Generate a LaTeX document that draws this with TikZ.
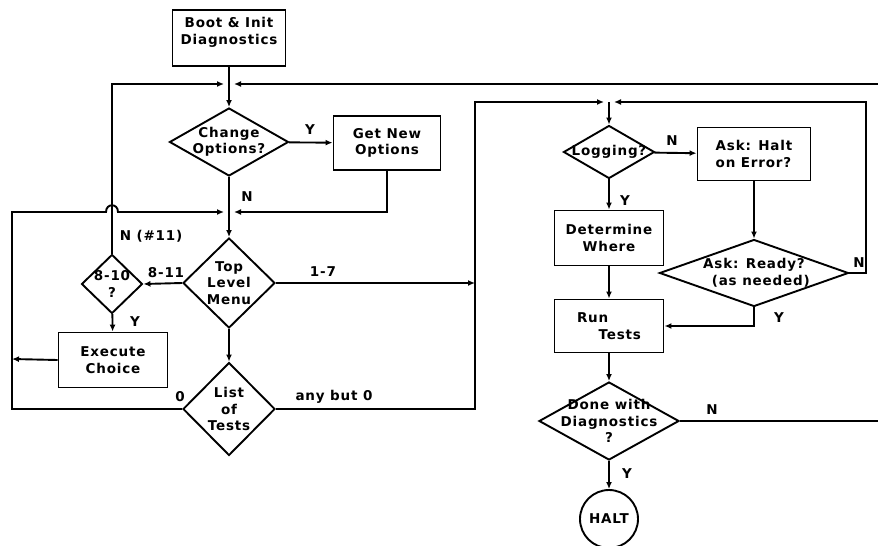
\documentclass[tikz,border=0pt]{standalone}
\usepackage{fontspec}
\setmainfont[LetterSpace=6]{DejaVu Sans}
\usetikzlibrary{shapes.geometric,arrows.meta,calc}
\tikzset{
  every node/.style={font=\fontsize{13.5}{16.5}\selectfont\bfseries},
  flow/.style={line width=1.9pt},
  arr/.style={flow,-{Latex[length=7pt,width=6pt]}},
  box/.style={draw,line width=1.9pt,rectangle,inner sep=2pt,align=center},
  dia/.style={draw,line width=1.9pt,diamond,inner sep=0pt},
  dtext/.style={align=center,inner sep=0pt},
  lbl/.style={inner sep=0pt},
}
\begin{document}
\begin{tikzpicture}[x=1pt,y=-1pt]
\useasboundingbox (0,0) rectangle (878,546);
% ---- nodes
\node[box,minimum width=113pt,minimum height=56pt] (boot) at (229,38) {Boot \& Init\\Diagnostics\\[-2.5pt]};
\node[dia,minimum width=119pt,minimum height=68pt,label={[dtext]center:{Change\\Options?}}] (chg) at (229,142) {};
\node[box,minimum width=107pt,minimum height=54pt] (getnew) at (387,143) {Get New\\Options};
\node[dia,minimum width=92pt,minimum height=90pt,label={[dtext]center:{Top\\Level\\Menu}}] (tlm) at (229,283) {};
\node[dia,minimum width=61pt,minimum height=59pt,label={[dtext]center:{8-10\\?}}] (d810) at (112,284) {};
\node[box,minimum width=109pt,minimum height=55pt] (exec) at (113,360) {Execute\\Choice};
\node[dia,minimum width=92pt,minimum height=93pt,label={[dtext]center:{List\\of\\Tests}}] (list) at (229,409) {};
\node[dia,minimum width=91pt,minimum height=53pt,label={[dtext]center:{Logging?}}] (log) at (609,152) {};
\node[box,minimum width=113pt,minimum height=53pt,align=left] (halt) at (754,154) {Ask: Halt\\on Error?};
\node[box,minimum width=109pt,minimum height=55pt] (dw) at (609,238) {Determine\\Where};
\node[dia,minimum width=189pt,minimum height=67pt,label={[dtext]center:{Ask: Ready?\\\hspace{1em}(as needed)}}] (ready) at (754,273) {};
\node[box,minimum width=109pt,minimum height=53pt,align=left] (run) at (609,326) {Run\\\hspace{1.6em}Tests};
\node[dia,minimum width=140pt,minimum height=78pt,label={[dtext]center:{Done with\\Diagnostics\\?}}] (done) at (609,421) {};
\node[draw,line width=1.9pt,circle,minimum size=58pt,inner sep=0pt] (haltc) at (609,519) {HALT};
% ---- junction coordinates
\coordinate (tj) at (229,84);
\coordinate (tjL) at (224,84);
\coordinate (tjR) at (234,84);
\coordinate (mjL) at (224,212);
\coordinate (mjR) at (234,212);
\coordinate (lj) at (609,102);
\coordinate (ljL) at (604,102);
\coordinate (ljR) at (614,102);
\coordinate (leftx) at (12,359);
\coordinate (bus) at (475,283);
% ---- connectors
\draw[arr] (boot) -- (chg);
\draw[arr] (d810.north) |- (tjL);
\draw[arr] (done.east) -| (881,84) -- (tjR);
\draw[arr] (chg) -- (getnew);
\draw[arr] (getnew.south) |- (mjR);
\draw[arr] (chg) -- (tlm);
\draw[arr] (list.west) -| (12,212) -- (106,212) .. controls (106,203) and (118,203) .. (118,212) -- (mjL);
\draw[arr] (exec.west) -- (leftx);
\draw[arr] (tlm.west) -- (d810.east);
\draw[arr] (tlm.east) -- (bus);
\draw[arr] (d810) -- (exec);
\draw[arr] (tlm) -- (list);
\draw[arr] (list.east) -| (475,102) -- (ljL);
\draw[arr] (ready.east) -| (866,102) -- (ljR);
\draw[arr] (lj) -- (log.north);
\draw[arr] (log) -- (halt);
\draw[arr] (halt.south) -- (ready.north);
\draw[arr] (log) -- (dw);
\draw[arr] (dw) -- (run);
\draw[arr] (ready.south) |- (run.east);
\draw[arr] (run) -- (done);
\draw[arr] (done) -- (haltc);
% ---- connector labels
\node[lbl] (lY1) at (310,130) {Y};
\node[lbl] (lN1) at (247,197) {N};
\node[lbl] (lN11) at (151,236) {N (\#11)};
\node[lbl] (l811) at (166,273) {8-11};
\node[lbl] (l17) at (323,272) {1-7};
\node[lbl] (lY2) at (135,322) {Y};
\node[lbl] (l0) at (180,397) {0};
\node[lbl] (lany) at (334,397) {any but 0};
\node[lbl] (lN2) at (672,141) {N};
\node[lbl] (lY3) at (625,201) {Y};
\node[lbl] (lN3) at (859,263) {N};
\node[lbl] (lY4) at (779,318) {Y};
\node[lbl] (lN4) at (712,410) {N};
\node[lbl] (lY5) at (627,474) {Y};
\end{tikzpicture}
\end{document}
